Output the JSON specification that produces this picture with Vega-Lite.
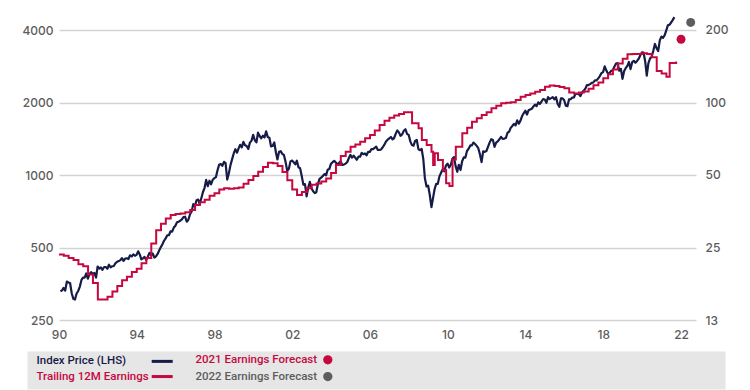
{
"$schema": "https://vega.github.io/schema/vega-lite/v6.json",
"width": 637, "height": 310,
"autosize": {"type": "none"},
"padding": {"left": 59, "top": 10, "right": 54, "bottom": 70},
"background": "white",
"config": {"view": {"stroke": null}, "font": "Inter"},
"datasets": {
"price": [
{"d":"1990-01-28","p":329},{"d":"1990-02-28","p":332},{"d":"1990-03-28","p":340},{"d":"1990-04-28","p":331},{"d":"1990-05-28","p":361},{"d":"1990-06-28","p":358},{"d":"1990-07-28","p":356},{"d":"1990-08-28","p":323},{"d":"1990-09-28","p":306},{"d":"1990-10-28","p":304},{"d":"1990-11-28","p":322},{"d":"1990-12-28","p":330},
{"d":"1991-01-28","p":344},{"d":"1991-02-28","p":367},{"d":"1991-03-28","p":375},{"d":"1991-04-28","p":375},{"d":"1991-05-28","p":390},{"d":"1991-06-28","p":371},{"d":"1991-07-28","p":388},{"d":"1991-08-28","p":395},{"d":"1991-09-28","p":388},{"d":"1991-10-28","p":392},{"d":"1991-11-28","p":375},{"d":"1991-12-28","p":417},
{"d":"1992-01-28","p":409},{"d":"1992-02-28","p":413},{"d":"1992-03-28","p":404},{"d":"1992-04-28","p":415},{"d":"1992-05-28","p":415},{"d":"1992-06-28","p":408},{"d":"1992-07-28","p":424},{"d":"1992-08-28","p":414},{"d":"1992-09-28","p":418},{"d":"1992-10-28","p":419},{"d":"1992-11-28","p":431},{"d":"1992-12-28","p":436},
{"d":"1993-01-28","p":439},{"d":"1993-02-28","p":443},{"d":"1993-03-28","p":452},{"d":"1993-04-28","p":440},{"d":"1993-05-28","p":450},{"d":"1993-06-28","p":451},{"d":"1993-07-28","p":448},{"d":"1993-08-28","p":464},{"d":"1993-09-28","p":459},{"d":"1993-10-28","p":468},{"d":"1993-11-28","p":462},{"d":"1993-12-28","p":466},
{"d":"1994-01-28","p":482},{"d":"1994-02-28","p":467},{"d":"1994-03-28","p":446},{"d":"1994-04-28","p":451},{"d":"1994-05-28","p":457},{"d":"1994-06-28","p":444},{"d":"1994-07-28","p":458},{"d":"1994-08-28","p":475},{"d":"1994-09-28","p":463},{"d":"1994-10-28","p":472},{"d":"1994-11-28","p":454},{"d":"1994-12-28","p":459},
{"d":"1995-01-28","p":470},{"d":"1995-02-28","p":487},{"d":"1995-03-28","p":501},{"d":"1995-04-28","p":515},{"d":"1995-05-28","p":533},{"d":"1995-06-28","p":545},{"d":"1995-07-28","p":562},{"d":"1995-08-28","p":562},{"d":"1995-09-28","p":584},{"d":"1995-10-28","p":582},{"d":"1995-11-28","p":605},{"d":"1995-12-28","p":616},
{"d":"1996-01-28","p":636},{"d":"1996-02-28","p":640},{"d":"1996-03-28","p":646},{"d":"1996-04-28","p":654},{"d":"1996-05-28","p":669},{"d":"1996-06-28","p":671},{"d":"1996-07-28","p":640},{"d":"1996-08-28","p":652},{"d":"1996-09-28","p":687},{"d":"1996-10-28","p":705},{"d":"1996-11-28","p":757},{"d":"1996-12-28","p":741},
{"d":"1997-01-28","p":786},{"d":"1997-02-28","p":791},{"d":"1997-03-28","p":757},{"d":"1997-04-28","p":801},{"d":"1997-05-28","p":848},{"d":"1997-06-28","p":885},{"d":"1997-07-28","p":954},{"d":"1997-08-28","p":899},{"d":"1997-09-28","p":947},{"d":"1997-10-28","p":915},{"d":"1997-11-28","p":955},{"d":"1997-12-28","p":970},
{"d":"1998-01-28","p":980},{"d":"1998-02-28","p":1049},{"d":"1998-03-28","p":1102},{"d":"1998-04-28","p":1111},{"d":"1998-05-28","p":1091},{"d":"1998-06-28","p":1134},{"d":"1998-07-28","p":1121},{"d":"1998-08-28","p":957},{"d":"1998-09-28","p":1017},{"d":"1998-10-28","p":1099},{"d":"1998-11-28","p":1164},{"d":"1998-12-28","p":1229},
{"d":"1999-01-28","p":1280},{"d":"1999-02-28","p":1238},{"d":"1999-03-28","p":1286},{"d":"1999-04-28","p":1335},{"d":"1999-05-28","p":1302},{"d":"1999-06-28","p":1373},{"d":"1999-07-28","p":1329},{"d":"1999-08-28","p":1320},{"d":"1999-09-28","p":1283},{"d":"1999-10-28","p":1363},{"d":"1999-11-28","p":1389},{"d":"1999-12-28","p":1469},
{"d":"2000-01-28","p":1394},{"d":"2000-02-28","p":1366},{"d":"2000-03-28","p":1499},{"d":"2000-04-28","p":1452},{"d":"2000-05-28","p":1421},{"d":"2000-06-28","p":1455},{"d":"2000-07-28","p":1431},{"d":"2000-08-28","p":1518},{"d":"2000-09-28","p":1437},{"d":"2000-10-28","p":1429},{"d":"2000-11-28","p":1315},{"d":"2000-12-28","p":1320},
{"d":"2001-01-28","p":1366},{"d":"2001-02-28","p":1240},{"d":"2001-03-28","p":1160},{"d":"2001-04-28","p":1249},{"d":"2001-05-28","p":1256},{"d":"2001-06-28","p":1224},{"d":"2001-07-28","p":1211},{"d":"2001-08-28","p":1134},{"d":"2001-09-28","p":1041},{"d":"2001-10-28","p":1060},{"d":"2001-11-28","p":1139},{"d":"2001-12-28","p":1148},
{"d":"2002-01-28","p":1130},{"d":"2002-02-28","p":1107},{"d":"2002-03-28","p":1147},{"d":"2002-04-28","p":1077},{"d":"2002-05-28","p":1067},{"d":"2002-06-28","p":990},{"d":"2002-07-28","p":912},{"d":"2002-08-28","p":916},{"d":"2002-09-28","p":815},{"d":"2002-10-28","p":886},{"d":"2002-11-28","p":936},{"d":"2002-12-28","p":880},
{"d":"2003-01-28","p":856},{"d":"2003-02-28","p":841},{"d":"2003-03-28","p":848},{"d":"2003-04-28","p":917},{"d":"2003-05-28","p":964},{"d":"2003-06-28","p":975},{"d":"2003-07-28","p":990},{"d":"2003-08-28","p":1008},{"d":"2003-09-28","p":996},{"d":"2003-10-28","p":1051},{"d":"2003-11-28","p":1058},{"d":"2003-12-28","p":1112},
{"d":"2004-01-28","p":1131},{"d":"2004-02-28","p":1145},{"d":"2004-03-28","p":1126},{"d":"2004-04-28","p":1107},{"d":"2004-05-28","p":1121},{"d":"2004-06-28","p":1141},{"d":"2004-07-28","p":1102},{"d":"2004-08-28","p":1104},{"d":"2004-09-28","p":1115},{"d":"2004-10-28","p":1130},{"d":"2004-11-28","p":1174},{"d":"2004-12-28","p":1212},
{"d":"2005-01-28","p":1181},{"d":"2005-02-28","p":1204},{"d":"2005-03-28","p":1181},{"d":"2005-04-28","p":1157},{"d":"2005-05-28","p":1192},{"d":"2005-06-28","p":1191},{"d":"2005-07-28","p":1234},{"d":"2005-08-28","p":1220},{"d":"2005-09-28","p":1229},{"d":"2005-10-28","p":1207},{"d":"2005-11-28","p":1249},{"d":"2005-12-28","p":1248},
{"d":"2006-01-28","p":1280},{"d":"2006-02-28","p":1281},{"d":"2006-03-28","p":1295},{"d":"2006-04-28","p":1311},{"d":"2006-05-28","p":1270},{"d":"2006-06-28","p":1270},{"d":"2006-07-28","p":1277},{"d":"2006-08-28","p":1304},{"d":"2006-09-28","p":1336},{"d":"2006-10-28","p":1378},{"d":"2006-11-28","p":1401},{"d":"2006-12-28","p":1418},
{"d":"2007-01-28","p":1438},{"d":"2007-02-28","p":1407},{"d":"2007-03-28","p":1421},{"d":"2007-04-28","p":1482},{"d":"2007-05-28","p":1531},{"d":"2007-06-28","p":1503},{"d":"2007-07-28","p":1455},{"d":"2007-08-28","p":1474},{"d":"2007-09-28","p":1527},{"d":"2007-10-28","p":1549},{"d":"2007-11-28","p":1481},{"d":"2007-12-28","p":1468},
{"d":"2008-01-28","p":1379},{"d":"2008-02-28","p":1331},{"d":"2008-03-28","p":1323},{"d":"2008-04-28","p":1386},{"d":"2008-05-28","p":1400},{"d":"2008-06-28","p":1280},{"d":"2008-07-28","p":1267},{"d":"2008-08-28","p":1283},{"d":"2008-09-28","p":1165},{"d":"2008-10-28","p":969},{"d":"2008-11-28","p":896},{"d":"2008-12-28","p":903},
{"d":"2009-01-28","p":826},{"d":"2009-02-28","p":735},{"d":"2009-03-28","p":798},{"d":"2009-04-28","p":873},{"d":"2009-05-28","p":919},{"d":"2009-06-28","p":919},{"d":"2009-07-28","p":987},{"d":"2009-08-28","p":1021},{"d":"2009-09-28","p":1057},{"d":"2009-10-28","p":1036},{"d":"2009-11-28","p":1096},{"d":"2009-12-28","p":1115},
{"d":"2010-01-28","p":1074},{"d":"2010-02-28","p":1104},{"d":"2010-03-28","p":1169},{"d":"2010-04-28","p":1187},{"d":"2010-05-28","p":1089},{"d":"2010-06-28","p":1031},{"d":"2010-07-28","p":1102},{"d":"2010-08-28","p":1049},{"d":"2010-09-28","p":1141},{"d":"2010-10-28","p":1183},{"d":"2010-11-28","p":1181},{"d":"2010-12-28","p":1258},
{"d":"2011-01-28","p":1286},{"d":"2011-02-28","p":1327},{"d":"2011-03-28","p":1326},{"d":"2011-04-28","p":1364},{"d":"2011-05-28","p":1345},{"d":"2011-06-28","p":1321},{"d":"2011-07-28","p":1292},{"d":"2011-08-28","p":1219},{"d":"2011-09-28","p":1131},{"d":"2011-10-28","p":1253},{"d":"2011-11-28","p":1247},{"d":"2011-12-28","p":1258},
{"d":"2012-01-28","p":1312},{"d":"2012-02-28","p":1366},{"d":"2012-03-28","p":1408},{"d":"2012-04-28","p":1398},{"d":"2012-05-28","p":1310},{"d":"2012-06-28","p":1362},{"d":"2012-07-28","p":1379},{"d":"2012-08-28","p":1407},{"d":"2012-09-28","p":1441},{"d":"2012-10-28","p":1412},{"d":"2012-11-28","p":1416},{"d":"2012-12-28","p":1426},
{"d":"2013-01-28","p":1498},{"d":"2013-02-28","p":1515},{"d":"2013-03-28","p":1569},{"d":"2013-04-28","p":1598},{"d":"2013-05-28","p":1631},{"d":"2013-06-28","p":1606},{"d":"2013-07-28","p":1686},{"d":"2013-08-28","p":1633},{"d":"2013-09-28","p":1682},{"d":"2013-10-28","p":1757},{"d":"2013-11-28","p":1806},{"d":"2013-12-28","p":1848},
{"d":"2014-01-28","p":1783},{"d":"2014-02-28","p":1859},{"d":"2014-03-28","p":1872},{"d":"2014-04-28","p":1884},{"d":"2014-05-28","p":1924},{"d":"2014-06-28","p":1960},{"d":"2014-07-28","p":1931},{"d":"2014-08-28","p":2003},{"d":"2014-09-28","p":1972},{"d":"2014-10-28","p":2018},{"d":"2014-11-28","p":2068},{"d":"2014-12-28","p":2059},
{"d":"2015-01-28","p":1995},{"d":"2015-02-28","p":2105},{"d":"2015-03-28","p":2068},{"d":"2015-04-28","p":2086},{"d":"2015-05-28","p":2107},{"d":"2015-06-28","p":2063},{"d":"2015-07-28","p":2104},{"d":"2015-08-28","p":1972},{"d":"2015-09-28","p":1920},{"d":"2015-10-28","p":2079},{"d":"2015-11-28","p":2080},{"d":"2015-12-28","p":2044},
{"d":"2016-01-28","p":1940},{"d":"2016-02-28","p":1932},{"d":"2016-03-28","p":2060},{"d":"2016-04-28","p":2065},{"d":"2016-05-28","p":2097},{"d":"2016-06-28","p":2099},{"d":"2016-07-28","p":2174},{"d":"2016-08-28","p":2171},{"d":"2016-09-28","p":2168},{"d":"2016-10-28","p":2126},{"d":"2016-11-28","p":2199},{"d":"2016-12-28","p":2239},
{"d":"2017-01-28","p":2279},{"d":"2017-02-28","p":2364},{"d":"2017-03-28","p":2363},{"d":"2017-04-28","p":2384},{"d":"2017-05-28","p":2412},{"d":"2017-06-28","p":2423},{"d":"2017-07-28","p":2470},{"d":"2017-08-28","p":2472},{"d":"2017-09-28","p":2519},{"d":"2017-10-28","p":2575},{"d":"2017-11-28","p":2648},{"d":"2017-12-28","p":2674},
{"d":"2018-01-28","p":2824},{"d":"2018-02-28","p":2714},{"d":"2018-03-28","p":2641},{"d":"2018-04-28","p":2648},{"d":"2018-05-28","p":2705},{"d":"2018-06-28","p":2718},{"d":"2018-07-28","p":2816},{"d":"2018-08-28","p":2902},{"d":"2018-09-28","p":2914},{"d":"2018-10-28","p":2712},{"d":"2018-11-28","p":2760},{"d":"2018-12-28","p":2507},
{"d":"2019-01-28","p":2704},{"d":"2019-02-28","p":2784},{"d":"2019-03-28","p":2834},{"d":"2019-04-28","p":2946},{"d":"2019-05-28","p":2752},{"d":"2019-06-28","p":2942},{"d":"2019-07-28","p":2980},{"d":"2019-08-28","p":2926},{"d":"2019-09-28","p":2977},{"d":"2019-10-28","p":3038},{"d":"2019-11-28","p":3141},{"d":"2019-12-28","p":3231},
{"d":"2020-01-28","p":3226},{"d":"2020-02-28","p":2954},{"d":"2020-03-28","p":2585},{"d":"2020-04-28","p":2912},{"d":"2020-05-28","p":3044},{"d":"2020-06-28","p":3100},{"d":"2020-07-28","p":3271},{"d":"2020-08-28","p":3500},{"d":"2020-09-28","p":3363},{"d":"2020-10-28","p":3270},{"d":"2020-11-28","p":3622},{"d":"2020-12-28","p":3756},
{"d":"2021-01-28","p":3714},{"d":"2021-02-28","p":3811},{"d":"2021-03-28","p":3973},{"d":"2021-04-28","p":4181},{"d":"2021-05-28","p":4204},{"d":"2021-06-28","p":4298},{"d":"2021-07-28","p":4395},{"d":"2021-08-28","p":4523}
],
"eps": [
{"d":"1990-01-01","e":23.4},{"d":"1990-04-01","e":23.1},{"d":"1990-07-01","e":22.6},{"d":"1990-10-01","e":22.2},
{"d":"1991-01-01","e":21.3},{"d":"1991-04-01","e":20.9},{"d":"1991-07-01","e":19.3},{"d":"1991-10-01","e":17.8},
{"d":"1992-01-01","e":15.2},{"d":"1992-04-01","e":15.2},{"d":"1992-07-01","e":15.6},{"d":"1992-10-01","e":16.4},
{"d":"1993-01-01","e":17.3},{"d":"1993-04-01","e":18.3},{"d":"1993-07-01","e":18.9},{"d":"1993-10-01","e":19.8},
{"d":"1994-01-01","e":20.4},{"d":"1994-04-01","e":21.5},{"d":"1994-07-01","e":22.6},{"d":"1994-10-01","e":26.0},
{"d":"1995-01-01","e":29.5},{"d":"1995-04-01","e":31.4},{"d":"1995-07-01","e":33.0},{"d":"1995-10-01","e":34.1},
{"d":"1996-01-01","e":34.4},{"d":"1996-04-01","e":34.6},{"d":"1996-07-01","e":35.0},{"d":"1996-10-01","e":35.8},
{"d":"1997-01-01","e":37.5},{"d":"1997-04-01","e":38.5},{"d":"1997-07-01","e":39.5},{"d":"1997-10-01","e":41.0},
{"d":"1998-01-01","e":42.0},{"d":"1998-04-01","e":43.5},{"d":"1998-07-01","e":44.0},{"d":"1998-10-01","e":43.8},
{"d":"1999-01-01","e":44.0},{"d":"1999-04-01","e":44.4},{"d":"1999-07-01","e":46.0},{"d":"1999-10-01","e":47.7},
{"d":"2000-01-01","e":49.5},{"d":"2000-04-01","e":51.6},{"d":"2000-07-01","e":54.0},{"d":"2000-10-01","e":56.2},
{"d":"2001-01-01","e":56.0},{"d":"2001-04-01","e":54.5},{"d":"2001-07-01","e":51.5},{"d":"2001-10-01","e":47.5},
{"d":"2002-01-01","e":43.5},{"d":"2002-04-01","e":41.3},{"d":"2002-07-01","e":42.5},{"d":"2002-10-01","e":44.0},
{"d":"2003-01-01","e":45.5},{"d":"2003-04-01","e":46.1},{"d":"2003-07-01","e":47.0},{"d":"2003-10-01","e":48.4},
{"d":"2004-01-01","e":51.0},{"d":"2004-04-01","e":55.0},{"d":"2004-07-01","e":60.0},{"d":"2004-10-01","e":62.5},
{"d":"2005-01-01","e":65.5},{"d":"2005-04-01","e":67.0},{"d":"2005-07-01","e":68.7},{"d":"2005-10-01","e":71.0},
{"d":"2006-01-01","e":73.3},{"d":"2006-04-01","e":76.5},{"d":"2006-07-01","e":80.7},{"d":"2006-10-01","e":84.0},
{"d":"2007-01-01","e":86.5},{"d":"2007-04-01","e":88.3},{"d":"2007-07-01","e":89.6},{"d":"2007-10-01","e":91.0},
{"d":"2008-03-01","e":82.0},{"d":"2008-07-01","e":78.2},{"d":"2008-09-01","e":69.9},{"d":"2008-12-01","e":66.6},
{"d":"2009-03-01","e":62.5},{"d":"2009-04-01","e":55.0},{"d":"2009-05-01","e":61.5},{"d":"2009-07-01","e":57.7},
{"d":"2009-10-01","e":52.4},{"d":"2009-12-01","e":46.2},{"d":"2010-02-01","e":45.0},{"d":"2010-04-01","e":58.0},
{"d":"2010-06-01","e":65.5},{"d":"2010-10-01","e":74.5},
{"d":"2011-01-01","e":78.5},{"d":"2011-04-01","e":83.2},{"d":"2011-07-01","e":86.0},{"d":"2011-10-01","e":88.7},
{"d":"2012-01-01","e":91.0},{"d":"2012-04-01","e":94.6},{"d":"2012-07-01","e":97.0},{"d":"2012-10-01","e":99.2},
{"d":"2013-01-01","e":99.8},{"d":"2013-04-01","e":100.2},{"d":"2013-07-01","e":102.5},{"d":"2013-10-01","e":105.7},
{"d":"2014-01-01","e":107.5},{"d":"2014-04-01","e":109.0},{"d":"2014-07-01","e":110.9},{"d":"2014-10-01","e":112.7},
{"d":"2015-01-01","e":116.3},{"d":"2015-04-01","e":117.5},{"d":"2015-07-01","e":117.0},{"d":"2015-10-01","e":116.0},
{"d":"2016-01-01","e":114.5},{"d":"2016-04-01","e":110.0},{"d":"2016-07-01","e":109.0},{"d":"2016-10-01","e":110.0},
{"d":"2017-01-01","e":111.0},{"d":"2017-04-01","e":114.0},{"d":"2017-07-01","e":118.0},{"d":"2017-10-01","e":121.0},
{"d":"2018-01-01","e":126.0},{"d":"2018-04-01","e":131.0},{"d":"2018-07-01","e":137.0},{"d":"2018-10-01","e":145.0},
{"d":"2019-01-01","e":152.0},{"d":"2019-04-01","e":158.5},{"d":"2019-07-01","e":159.0},{"d":"2019-10-01","e":159.0},
{"d":"2020-01-01","e":160.0},{"d":"2020-04-01","e":159.0},{"d":"2020-07-01","e":154.0},{"d":"2020-10-01","e":135.0},
{"d":"2021-01-01","e":132.0},{"d":"2021-04-01","e":128.0},{"d":"2021-06-01","e":146.0},{"d":"2021-10-01","e":148.0}
],
"fc": [
{"d":"2022-01-01","e":183,"s":"2021 Earnings Forecast"},
{"d":"2022-07-01","e":215,"s":"2022 Earnings Forecast"}
]
},
"encoding": {
  "x": {"field": "d", "type": "temporal",
    "scale": {"domain": ["1990-01-01T00:00:00", "2022-10-09T00:00:00"]},
    "axis": {"title": null, "values": ["1990-01-01T00:00:00","1994-01-01T00:00:00","1998-01-01T00:00:00","2002-01-01T00:00:00","2006-01-01T00:00:00","2010-01-01T00:00:00","2014-01-01T00:00:00","2018-01-01T00:00:00","2022-01-01T00:00:00"],
      "format": "%y", "grid": false, "domain": false, "ticks": false, "tickSize": 0, "labelPadding": 9,
      "labelFlush": false, "labelOverlap": false, "labelFont": "Inter", "labelFontSize": 12, "labelFontWeight": 500, "labelColor": "#5c5c5c"}}
},
"layer": [
  {"data": {"name": "price"},
   "mark": {"type": "line", "strokeWidth": 2.2, "strokeJoin": "round"},
   "encoding": {
     "y": {"field": "p", "type": "quantitative",
       "scale": {"type": "log", "domain": [250, 4843], "nice": false, "zero": false},
       "axis": {"title": null, "values": [250,500,1000,2000,4000], "format": "d", "orient": "left",
         "grid": true, "gridColor": "#d3d3d3", "gridWidth": 1.5, "domain": false, "ticks": false, "tickSize": 0,
         "labelPadding": 6, "labelFont": "Inter", "labelFontSize": 12, "labelFontWeight": 500, "labelColor": "#5c5c5c"}},
     "color": {"datum": "Index Price (LHS)", "type": "nominal",
       "scale": {"domain": ["Index Price (LHS)", "2021 Earnings Forecast", "Trailing 12M Earnings", "2022 Earnings Forecast"],
                 "range": ["#161b47", "#c5083f", "#c5083f", "#5d5d5d"]},
       "legend": {"orient": "none", "legendX": -32, "legendY": 341, "direction": "horizontal", "columns": 2,
         "title": " ", "titleOrient": "right", "titlePadding": 385, "titleFontSize": 8,
         "padding": 3, "fillColor": "#e6e6e6", "strokeColor": "transparent", "cornerRadius": 0,
         "rowPadding": -2.2, "columnPadding": 10, "labelLimit": 0,
         "labelFont": "Roboto", "labelFontSize": 11.5, "labelFontWeight": 500,
         "symbolOpacity": 1, "symbolSize": 25, "symbolStrokeWidth": 3,
         "symbolOffset": 126.45, "labelOffset": -131.45,
         "symbolType": {"expr": "indexof(datum.value, 'Forecast') >= 0 ? 'M1.38,0A1.26,1.26 0 1,0 3.9,0A1.26,1.26 0 1,0 1.38,0Z' : 'M-4.2,0H4.2'"},
         "symbolFillColor": {"expr": "datum.value == '2021 Earnings Forecast' ? '#c5083f' : datum.value == '2022 Earnings Forecast' ? '#5d5d5d' : 'transparent'"},
         "symbolStrokeColor": {"expr": "datum.value == 'Index Price (LHS)' ? '#161b47' : datum.value == '2022 Earnings Forecast' ? '#5d5d5d' : '#c5083f'"},
         "labelColor": {"expr": "datum.value == 'Index Price (LHS)' ? '#161b47' : datum.value == '2022 Earnings Forecast' ? '#5d5d5d' : '#c5083f'"}
       }}
   }},
  {"layer": [
    {"data": {"name": "eps"},
     "mark": {"type": "line", "interpolate": "step-after", "strokeWidth": 2},
     "encoding": {
       "y": {"field": "e", "type": "quantitative",
         "scale": {"type": "log", "domain": [12.5, 242.1], "nice": false, "zero": false},
         "axis": {"title": null, "orient": "right", "values": [12.5,25,50,100,200],
           "labelExpr": "datum.value == 12.5 ? '13' : format(datum.value, 'd')",
           "grid": false, "domain": false, "ticks": false, "tickSize": 0, "labelPadding": 9,
           "labelFont": "Inter", "labelFontSize": 12, "labelFontWeight": 500, "labelColor": "#5c5c5c"}},
       "color": {"datum": "Trailing 12M Earnings", "type": "nominal"}
     }},
    {"data": {"name": "fc"},
     "mark": {"type": "circle", "size": 80, "opacity": 1},
     "encoding": {
       "y": {"field": "e", "type": "quantitative"},
       "color": {"field": "s", "type": "nominal"}
     }}
  ]}
],
"resolve": {"scale": {"y": "independent"}}
}
